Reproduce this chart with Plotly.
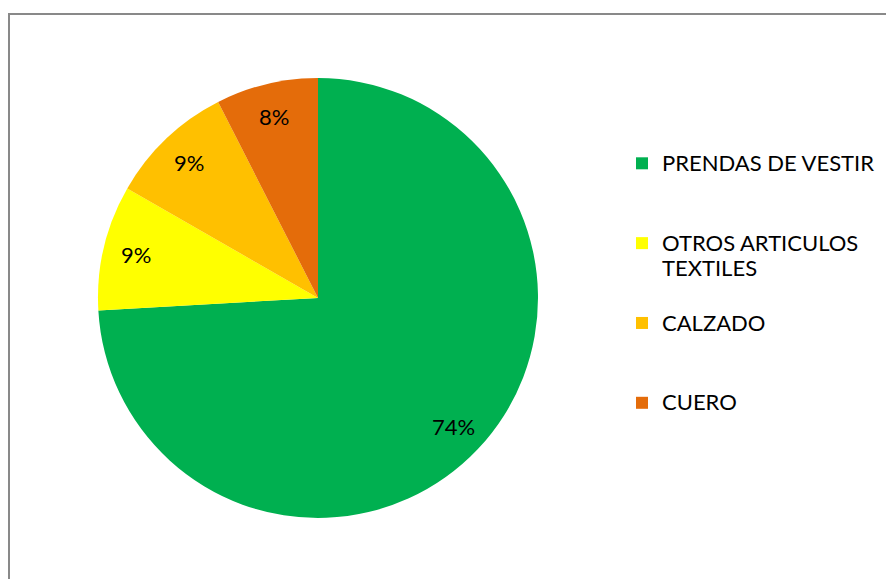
import math
import plotly.graph_objects as go

categories = ["PRENDAS DE VESTIR", "OTROS ARTICULOS<br>TEXTILES", "CALZADO", "CUERO"]
values = [74.1, 9.2, 9.2, 7.5]
colors = ["#00B050", "#FFFF00", "#FFC000", "#E46C0A"]

W, H = 894, 579
# page body has an 8px margin, positions below are in figure pixels
cx, cy, r = 310, 290, 220
FONT = "Lato"
TXT = 22

def legend_label(lab):
    lines = lab.split("<br>")
    body = "<br>".join(f"<span style='font-size:{TXT}px'>{l}</span>" for l in lines)
    pad = 3 - len(lines)
    return body + "<br> " * pad

legend_labels = [legend_label(c) for c in categories]

fig = go.Figure(go.Pie(
    labels=legend_labels,
    values=values,
    sort=False,
    direction="clockwise",
    rotation=0,
    marker=dict(colors=colors, line=dict(width=0)),
    textinfo="none",
    domain=dict(x=[(cx - r) / W, (cx + r) / W], y=[1 - (cy + r) / H, 1 - (cy - r) / H]),
    hovertext=[c.replace("<br>", " ") for c in categories],
    hoverinfo="text+percent",
))

# percentage labels placed at 0.85 radius along each slice's mid angle
total = sum(values)
annotations = []
cum = 0.0
for v in values:
    mid = (cum + v / 2) / total
    cum += v
    th = 2 * math.pi * mid
    px = cx + 0.85 * r * math.sin(th)
    py = cy - 0.85 * r * math.cos(th)
    annotations.append(dict(
        x=px / W, y=1 - py / H, xref="paper", yref="paper",
        text=f"{round(100 * v / total)}%", showarrow=False,
        font=dict(family=FONT, size=TXT, color="black"),
        xanchor="center", yanchor="middle",
    ))

fig.update_layout(
    width=W, height=H,
    margin=dict(l=0, r=0, t=0, b=0),
    paper_bgcolor="white",
    font=dict(family=FONT, size=TXT, color="black"),
    annotations=annotations,
    legend=dict(
        x=614 / W, y=1 - 136 / H, xanchor="left", yanchor="top",
        valign="top",
        font=dict(family=FONT, size=19.7, color="black"),
        tracegroupgap=0,
    ),
    shapes=[dict(
        type="rect", xref="paper", yref="paper",
        x0=1 / W, x1=887 / W, y0=-0.1, y1=1 - 6 / H,
        line=dict(color="#898989", width=2), fillcolor="rgba(0,0,0,0)",
        layer="below",
    )],
)

fig.write_html("out.html")
